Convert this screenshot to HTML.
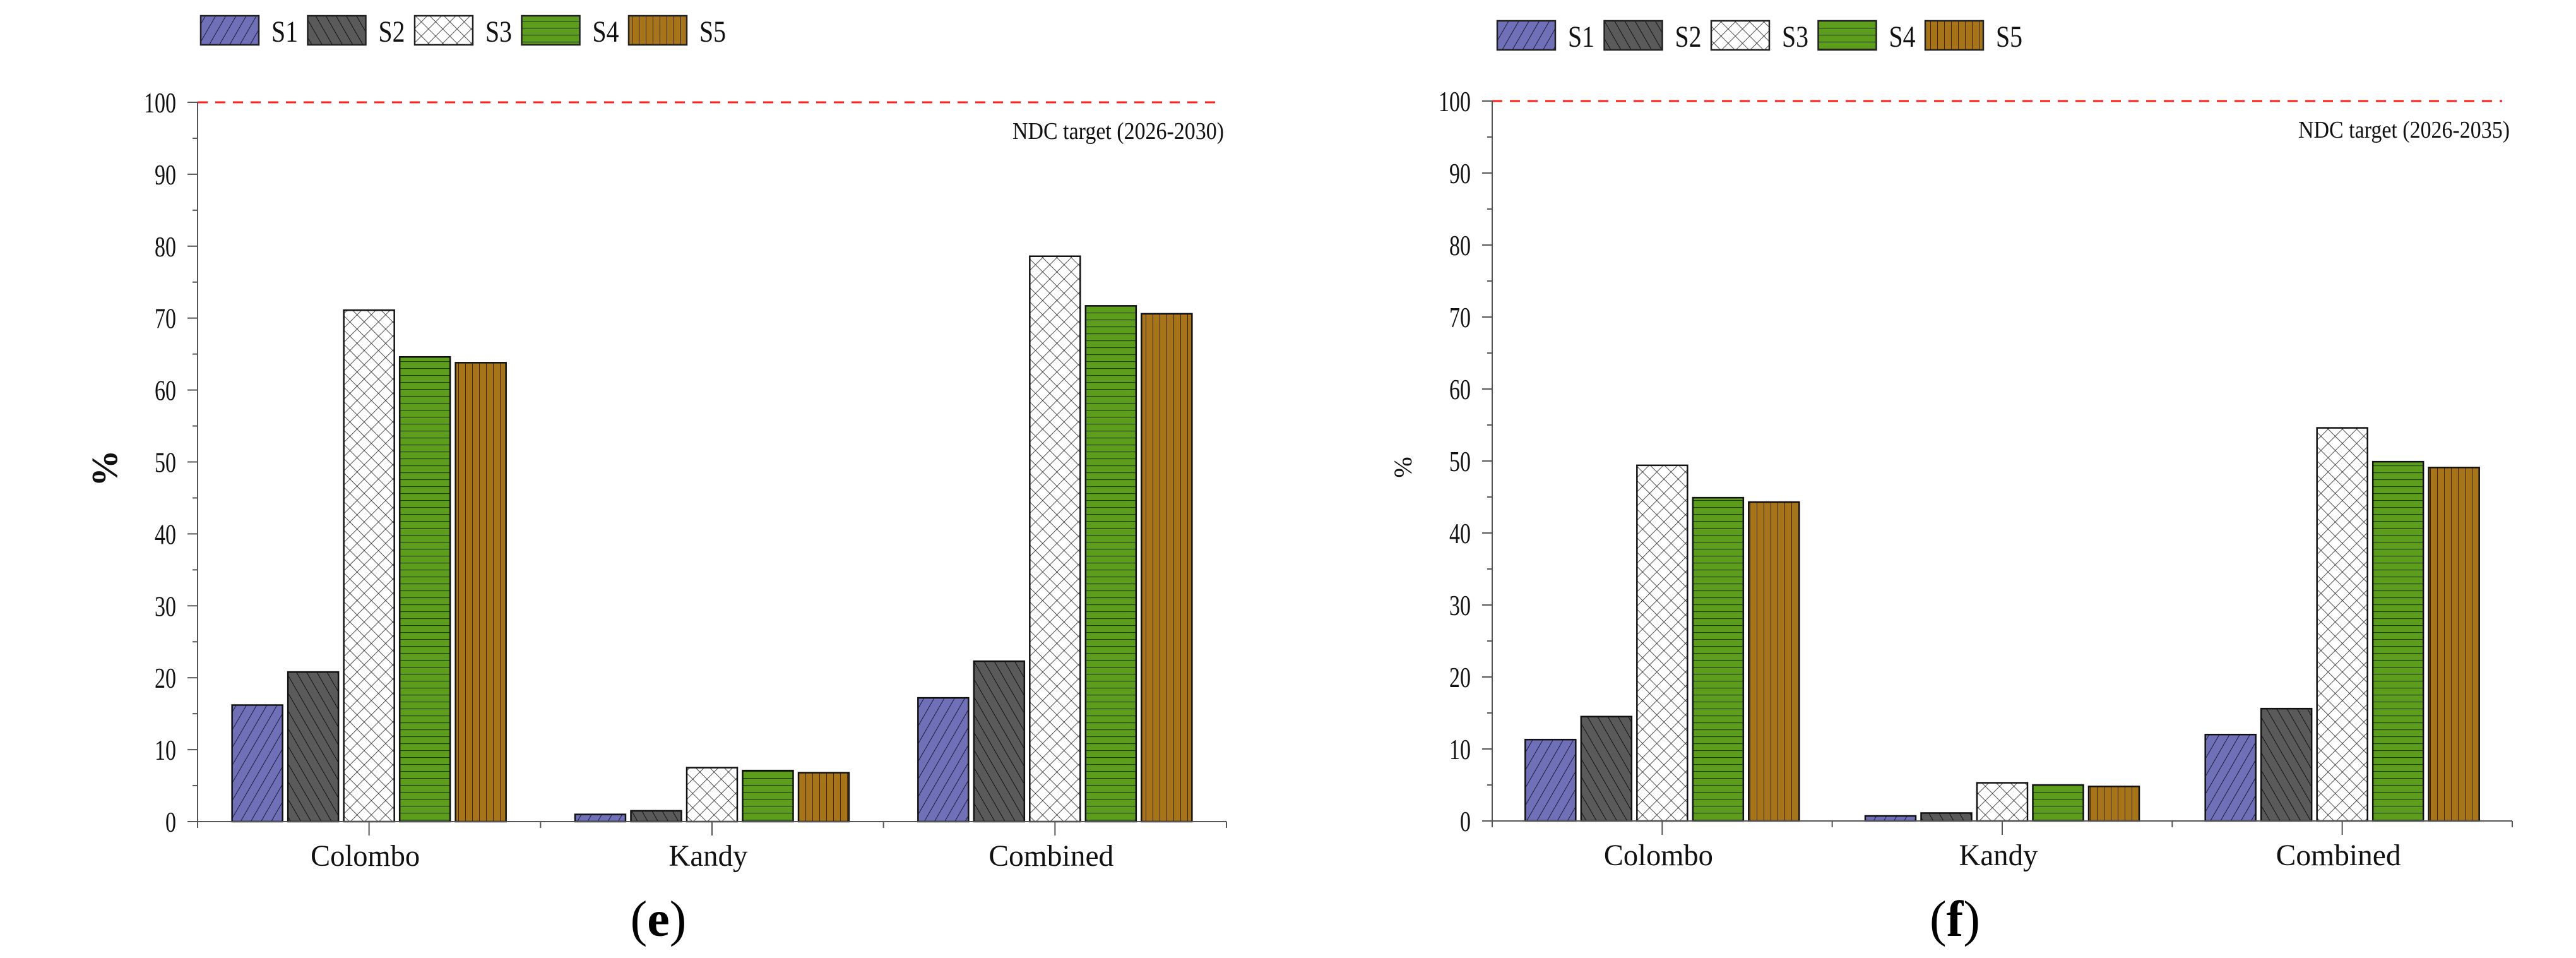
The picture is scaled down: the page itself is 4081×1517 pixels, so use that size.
<!DOCTYPE html>
<html><head><meta charset="utf-8">
<style>
html,body{margin:0;padding:0;background:#fff;}
svg{display:block;font-family:"Liberation Serif",serif;}
</style></head>
<body>
<svg id="root" width="4081" height="1517" viewBox="0 0 4081 1517" xmlns="http://www.w3.org/2000/svg">
<defs>
  <pattern id="p1" patternUnits="userSpaceOnUse" width="14" height="14" patternTransform="rotate(30)">
    <rect width="14" height="14" fill="#7070b8"/><line x1="0" y1="0" x2="0" y2="14" stroke="#1a1a3a" stroke-width="2"/>
  </pattern>
  <pattern id="p2" patternUnits="userSpaceOnUse" width="14" height="14" patternTransform="rotate(-30)">
    <rect width="14" height="14" fill="#5a5a5a"/><line x1="0" y1="0" x2="0" y2="14" stroke="#111" stroke-width="2"/>
  </pattern>
  <pattern id="p3" patternUnits="userSpaceOnUse" width="16" height="16" patternTransform="rotate(45)">
    <rect width="16" height="16" fill="#fff"/><line x1="0" y1="0" x2="16" y2="0" stroke="#222" stroke-width="1.6"/><line x1="0" y1="0" x2="0" y2="16" stroke="#222" stroke-width="1.6"/>
  </pattern>
  <pattern id="p4" patternUnits="userSpaceOnUse" width="20" height="11">
    <rect width="20" height="11" fill="#5c9e1c"/><line x1="0" y1="0" x2="20" y2="0" stroke="#1f3a08" stroke-width="2.2"/>
  </pattern>
  <pattern id="p5" patternUnits="userSpaceOnUse" width="11" height="20">
    <rect width="11" height="20" fill="#a8741a"/><line x1="0" y1="0" x2="0" y2="20" stroke="#3a2506" stroke-width="2"/>
  </pattern>
</defs>
</svg>
<script>
const categories = ["Colombo","Kandy","Combined"];
const seriesNames = ["S1","S2","S3","S4","S5"];
const yTicks = [0,10,20,30,40,50,60,70,80,90,100];
const e_S1 = [16.2, 1.0, 17.2];
const e_S2 = [20.8, 1.5, 22.3];
const e_S3 = [71.1, 7.5, 78.6];
const e_S4 = [64.6, 7.1, 71.7];
const e_S5 = [63.8, 6.8, 70.6];
const f_S1 = [11.3, 0.7, 12.0];
const f_S2 = [14.5, 1.1, 15.6];
const f_S3 = [49.4, 5.3, 54.6];
const f_S4 = [44.9, 5.0, 49.9];
const f_S5 = [44.3, 4.8, 49.1];
const targetE = [100];
const targetF = [100];

const NS = "http://www.w3.org/2000/svg";
const root = document.getElementById('root');
function mk(tag, attrs, parent, text){
  const el = document.createElementNS(NS, tag);
  for (const k in attrs) el.setAttribute(k, attrs[k]);
  if (text !== undefined) el.textContent = text;
  (parent||root).appendChild(el);
  return el;
}

function drawChart(cfg){
  const g = mk('g', {});
  
  
  const x0 = cfg.x0, x1 = cfg.x1, y0 = cfg.y0, y100 = cfg.y100;
  const ys = v => y0 - (v/100)*(y0-y100);
  const groupW = (x1-x0)/categories.length;
  const xc = i => x0 + groupW*(i+0.5);
  const pitch = 88.5, bw = 80;

  const lg = mk('g', {}, g);
  
  
  seriesNames.forEach((s, i) => {
    const lx = cfg.legX + i*169.5;
    const ent = mk('g', {}, lg);
    
    
    mk('rect', {x: lx, y: cfg.legY, width: 92, height: 46, fill: 'url(#p'+(i+1)+')', stroke: '#222', 'stroke-width': 2.5}, ent);
    mk('text', {x: lx+112, y: cfg.legY+41, 'font-size': 48, fill: '#111', textLength: 42, lengthAdjust: 'spacingAndGlyphs'}, ent, s);
  });

  const tl = mk('line', {x1: x0, x2: x1 - 16, y1: ys(cfg.target[0]), y2: ys(cfg.target[0]), stroke: '#ff2020', 'stroke-width': 3, 'stroke-dasharray': '16 12'}, g);
  
  
  const tt = mk('text', {x: x1 - 4, y: ys(cfg.target[0]) + 58, 'font-size': 38, 'text-anchor': 'end', fill: '#111', textLength: 335, lengthAdjust: 'spacingAndGlyphs'}, g, cfg.targetLabel);
  
  

  cfg.series.forEach((arr, si) => {
    arr.forEach((v, ci) => {
      const cx = xc(ci) + (si-2)*pitch;
      const r = mk('rect', {x: cx - bw/2, y: ys(v), width: bw, height: y0 - ys(v), fill: 'url(#p'+(si+1)+')', stroke: '#111', 'stroke-width': 2.5}, g);
      
      
    });
  });

  const ya = mk('line', {x1: x0, x2: x0, y1: y0 + 10, y2: y100, stroke: '#555', 'stroke-width': 2}, g);
  
  
  const xa = mk('line', {x1: x0 - 16, x2: x1, y1: y0, y2: y0, stroke: '#555', 'stroke-width': 2}, g);
  
  

  yTicks.forEach(t => {
    mk('line', {x1: x0-16, x2: x0, y1: ys(t), y2: ys(t), stroke: '#555', 'stroke-width': 2}, g);
    if (t < 100) mk('line', {x1: x0-8, x2: x0, y1: ys(t+5), y2: ys(t+5), stroke: '#555', 'stroke-width': 2}, g);
    const s = String(t);
    const lab = mk('text', {x: x0 - 34, y: ys(t) + 16, 'font-size': 46, 'text-anchor': 'end', fill: '#111', textLength: s.length*17, lengthAdjust: 'spacingAndGlyphs'}, g, s);
    
    
  });
  for (let i = 0; i <= categories.length; i++) {
    mk('line', {x1: x0 + groupW*i, x2: x0 + groupW*i, y1: y0, y2: y0 + 10, stroke: '#555', 'stroke-width': 2}, g);
  }
  const catW = [173, 125, 198];
  categories.forEach((c, i) => {
    mk('line', {x1: xc(i), x2: xc(i), y1: y0, y2: y0 + 22, stroke: '#555', 'stroke-width': 2}, g);
    const lab = mk('text', {x: xc(i) - 6, y: y0 + 70, 'font-size': 48, 'text-anchor': 'middle', fill: '#111', textLength: catW[i], lengthAdjust: 'spacingAndGlyphs'}, g, c);
    
    
  });

  const yl = mk('text', {x: cfg.yLabX, y: (y0+y100)/2 + 10, 'font-size': cfg.yLabSize, 'font-weight': cfg.yLabWeight, 'text-anchor': 'middle', fill: '#111', transform: 'rotate(-90 ' + cfg.yLabX + ' ' + ((y0+y100)/2 + 10) + ')'}, g, '%');
  
  

  const pl = mk('text', {x: cfg.panelX, y: 1482, 'font-size': 80, 'text-anchor': 'middle', fill: '#000'}, g);
  
  
  mk('tspan', {}, pl, '(');
  mk('tspan', {'font-weight': 'bold'}, pl, cfg.panel);
  mk('tspan', {}, pl, ')');
}

drawChart({name: 'chart-e', x0: 313, x1: 1943, y0: 1301, y100: 162, legX: 318, legY: 25,
  series: [e_S1, e_S2, e_S3, e_S4, e_S5], target: targetE, targetLabel: 'NDC target (2026-2030)',
  yLabX: 185, yLabSize: 58, yLabWeight: 'bold', panelX: 1043, panel: 'e'});
drawChart({name: 'chart-f', x0: 2364, x1: 3980, y0: 1300, y100: 160, legX: 2372, legY: 33,
  series: [f_S1, f_S2, f_S3, f_S4, f_S5], target: targetF, targetLabel: 'NDC target (2026-2035)',
  yLabX: 2236, yLabSize: 40, yLabWeight: 'normal', panelX: 3097, panel: 'f'});
</script>
</body></html>
